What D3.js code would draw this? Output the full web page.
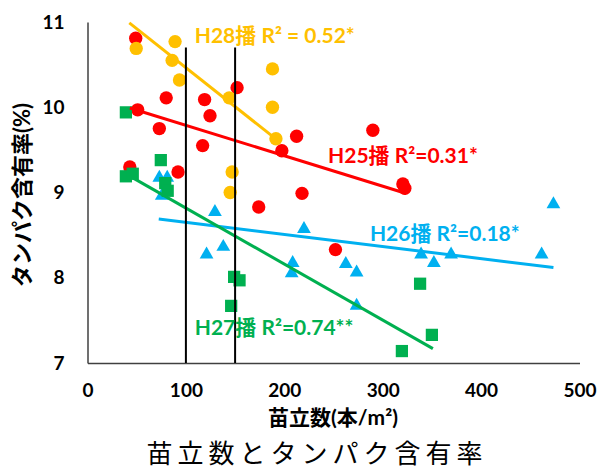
<!DOCTYPE html>
<html>
<head>
<meta charset="utf-8">
<script src="https://cdn.jsdelivr.net/npm/d3@7"></script>
<style>
  body { margin: 0; background: #fff; }
  svg text { font-family: Lato, "Noto Sans CJK JP", sans-serif; }
</style>
</head>
<body>
<div class="chart"></div>
<script>
// H25播 (red circles)
var h25_x = [49, 51, 80, 73, 119, 124.5, 117, 152, 43, 92, 212.5, 197.5, 290, 320.5, 322.5, 218, 174, 252];
var h25_y = [10.81, 9.97, 10.11, 9.75, 10.09, 9.90, 9.55, 10.23, 9.30, 9.24, 9.66, 9.49, 9.73, 9.10, 9.05, 8.99, 8.83, 8.33];
// H26播 (blue triangles)
var h26_x = [73, 81, 75.5, 129.5, 138, 121, 220, 208.5, 207.5, 262.5, 273.5, 273.5, 339, 352, 369.5, 461.5, 473.5];
var h26_y = [9.19, 9.19, 8.98, 8.79, 8.38, 8.29, 8.59, 8.19, 8.07, 8.18, 8.08, 7.69, 8.29, 8.19, 8.29, 8.29, 8.88];
// H27播 (green squares)
var h27_x = [39, 74.5, 39, 46, 79, 81.5, 149, 154.5, 146, 338, 350, 319.5];
var h27_y = [9.94, 9.38, 9.19, 9.22, 9.11, 9.02, 8.01, 7.97, 7.67, 7.93, 7.33, 7.14];
// H28播 (yellow circles)
var h28_x = [49.5, 89, 86, 93.5, 144, 188, 188, 191.5, 147, 145];
var h28_y = [10.69, 10.77, 10.55, 10.32, 10.11, 10.45, 10.0, 9.63, 9.24, 9.00];

// linear trendlines: [intercept, slope, xmin, xmax]
var trend_h25 = [10.144, -0.003565, 43, 324];
var trend_h26 = [8.793, -0.001421, 72.4, 473.5];
var trend_h27 = [9.474, -0.006567, 43, 351];
var trend_h28 = [11.379, -0.00915, 42.5, 192.3];

var labels = ["H25播 R\u00b2=0.31*", "H26播 R\u00b2=0.18*", "H27播 R\u00b2=0.74**", "H28播 R\u00b2 = 0.52*"];
var label_x = [244.5, 287, 109, 109];
var label_y = [9.35, 8.43, 7.33, 10.75];

var x_ticks = [0, 100, 200, 300, 400, 500];
var y_ticks = [7, 8, 9, 10, 11];
var ref_x = [100, 150];   // vertical guide lines
var ref_top = 10.7;

var colors = ["#ff0000", "#00b0f0", "#00b050", "#ffc000"];

var width = 604, height = 470;
var margin = {top: 22, left: 87.5, right: 24.5, bottom: 107};

var svg = d3.select(".chart").append("svg")
    .attr("width", width)
    .attr("height", height);

var x = d3.scaleLinear().domain([0, 500]).range([margin.left, width - margin.right]);
var y = d3.scaleLinear().domain([7, 11]).range([height - margin.bottom, margin.top]);

// axes (no tick marks)
var xAxis = svg.append("g")
    .attr("transform", "translate(0," + y(7) + ")")
    .call(d3.axisBottom(x).tickValues(x_ticks).tickFormat(d3.format("d")).tickSize(0));
var yAxis = svg.append("g")
    .attr("transform", "translate(" + x(0) + ",0)")
    .call(d3.axisLeft(y).tickValues(y_ticks).tickFormat(d3.format("d")).tickSize(0).tickPadding(23));

[xAxis, yAxis].forEach(function (a) {
    a.select(".domain").attr("stroke", "#404040").attr("stroke-width", 1.5);
    a.selectAll("text")
        .style("font-size", "19px")
        .style("font-weight", "bold")
        .attr("fill", "#000");
});
xAxis.selectAll("text").attr("dy", "0.35em").attr("y", 27);

var series = [
    {xs: h25_x, ys: h25_y, shape: "circle"},
    {xs: h26_x, ys: h26_y, shape: "triangle"},
    {xs: h27_x, ys: h27_y, shape: "square"},
    {xs: h28_x, ys: h28_y, shape: "circle"}
];
var trends = [trend_h25, trend_h26, trend_h27, trend_h28];

var shapes = {
    circle: d3.symbol().type(d3.symbolCircle).size(140),
    triangle: d3.symbol().type(d3.symbolTriangle).size(82),
    square: d3.symbol().type(d3.symbolSquare).size(150)
};

series.forEach(function (s, i) {
    svg.append("g").selectAll("path")
        .data(s.xs.map(function (v, j) { return [v, s.ys[j]]; }))
        .enter().append("path")
        .attr("d", shapes[s.shape])
        .attr("transform", function (d) {
            var dy = s.shape === "triangle" ? 1.5 : 0;
            return "translate(" + x(d[0]) + "," + (y(d[1]) + dy) + ")";
        })
        .attr("fill", colors[i]);
});

// trendlines
trends.forEach(function (t, i) {
    svg.append("line")
        .attr("x1", x(t[2])).attr("y1", y(t[0] + t[1] * t[2]))
        .attr("x2", x(t[3])).attr("y2", y(t[0] + t[1] * t[3]))
        .attr("stroke", colors[i])
        .attr("stroke-width", 3);
});

// vertical guide lines
svg.selectAll(".ref")
    .data(ref_x)
    .enter().append("line")
    .attr("class", "ref")
    .attr("x1", function (d) { return x(d); })
    .attr("x2", function (d) { return x(d); })
    .attr("y1", y(ref_top))
    .attr("y2", y(7))
    .attr("stroke", "#000")
    .attr("stroke-width", 2);

// series labels
labels.forEach(function (l, i) {
    svg.append("text")
        .attr("x", x(label_x[i]))
        .attr("y", y(label_y[i]))
        .attr("fill", colors[i])
        .style("font-size", "21px")
        .style("font-weight", "bold")
        .text(l);
});

// axis titles
svg.append("text")
    .attr("x", 333)
    .attr("y", 425)
    .attr("text-anchor", "middle")
    .style("font-size", "21px")
    .style("font-weight", "bold")
    .text("苗立数(本/m\u00b2)");

svg.append("text")
    .attr("transform", "translate(30,195) rotate(-90)")
    .attr("text-anchor", "middle")
    .style("font-size", "22px")
    .style("font-weight", "bold")
    .text("タンパク含有率(%)");

// title
svg.append("text")
    .attr("x", 317)
    .attr("y", 463)
    .attr("text-anchor", "middle")
    .style("font-family", "'Noto Sans CJK JP', sans-serif")
    .style("font-size", "26px")
    .style("letter-spacing", "5px")
    .text("苗立数とタンパク含有率");
</script>
</body>
</html>
